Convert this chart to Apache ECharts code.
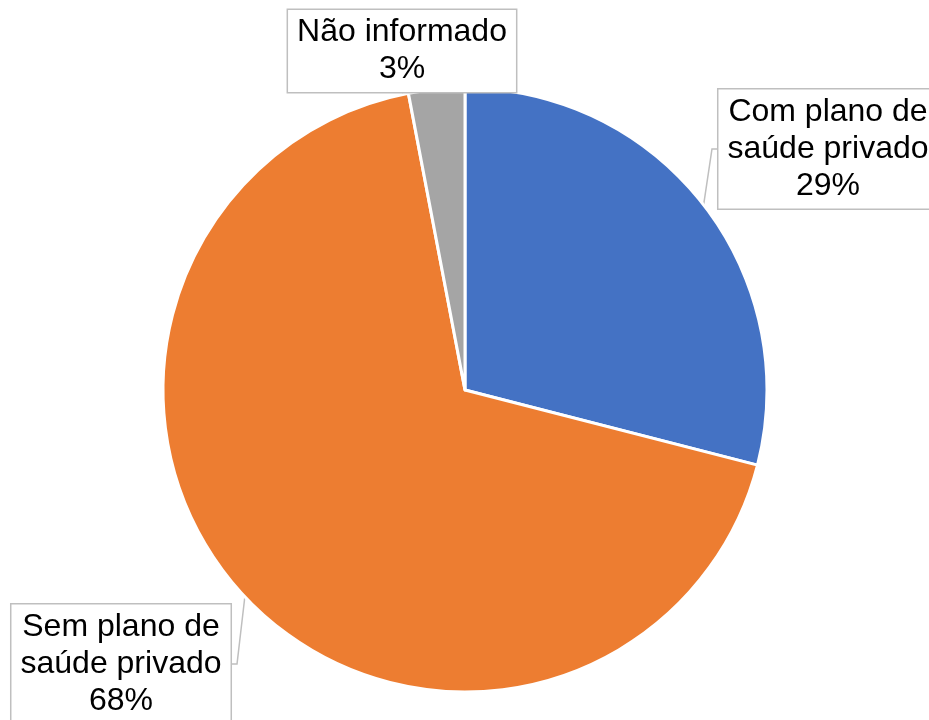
<!DOCTYPE html>
<html>
<head>
<meta charset="utf-8">
<script src="https://cdn.jsdelivr.net/npm/echarts@6/dist/echarts.min.js"></script>
<style>
html,body{margin:0;padding:0;background:#fff;}
#chart{width:929px;height:720px;}
</style>
</head>
<body>
<div id="chart"></div>
<script>
const categories = ['Com plano de\nsaúde privado', 'Sem plano de\nsaúde privado', 'Não informado'];
const values = [29, 68, 3];
const colors = ['#4472C4', '#ED7D31', '#A5A5A5'];
const labelPos = [[828, 149], [121, 664], [402, 51]];

const chart = echarts.init(document.getElementById('chart'), null, {renderer: 'canvas'});
chart.setOption({
  animation: false,
  backgroundColor: '#ffffff',
  series: [{
    type: 'pie',
    center: [465, 390],
    radius: [0, 302],
    startAngle: 90,
    clockwise: true,
    avoidLabelOverlap: false,
    emphasis: {disabled: true},
    itemStyle: {borderColor: '#ffffff', borderWidth: 3},
    data: categories.map((c, i) => ({name: c, value: values[i], itemStyle: {color: colors[i]}})),
    label: {
      show: true,
      position: 'outside',
      formatter: p => p.name + '\n' + p.value + '%',
      fontFamily: 'Liberation Sans, Arial, sans-serif',
      fontSize: 32,
      lineHeight: 37,
      color: '#000000',
      align: 'center',
      backgroundColor: '#ffffff',
      borderColor: '#bfbfbf',
      borderWidth: 1.5,
      padding: [4, 9]
    },
    labelLine: {
      show: true,
      length: 5,
      length2: 5,
      lineStyle: {color: '#bfbfbf', width: 1.5}
    },
    labelLayout: function (params) {
      const p = labelPos[params.dataIndex];
      return {x: p[0], y: p[1], align: 'center', verticalAlign: 'middle'};
    }
  }]
});
</script>
</body>
</html>
